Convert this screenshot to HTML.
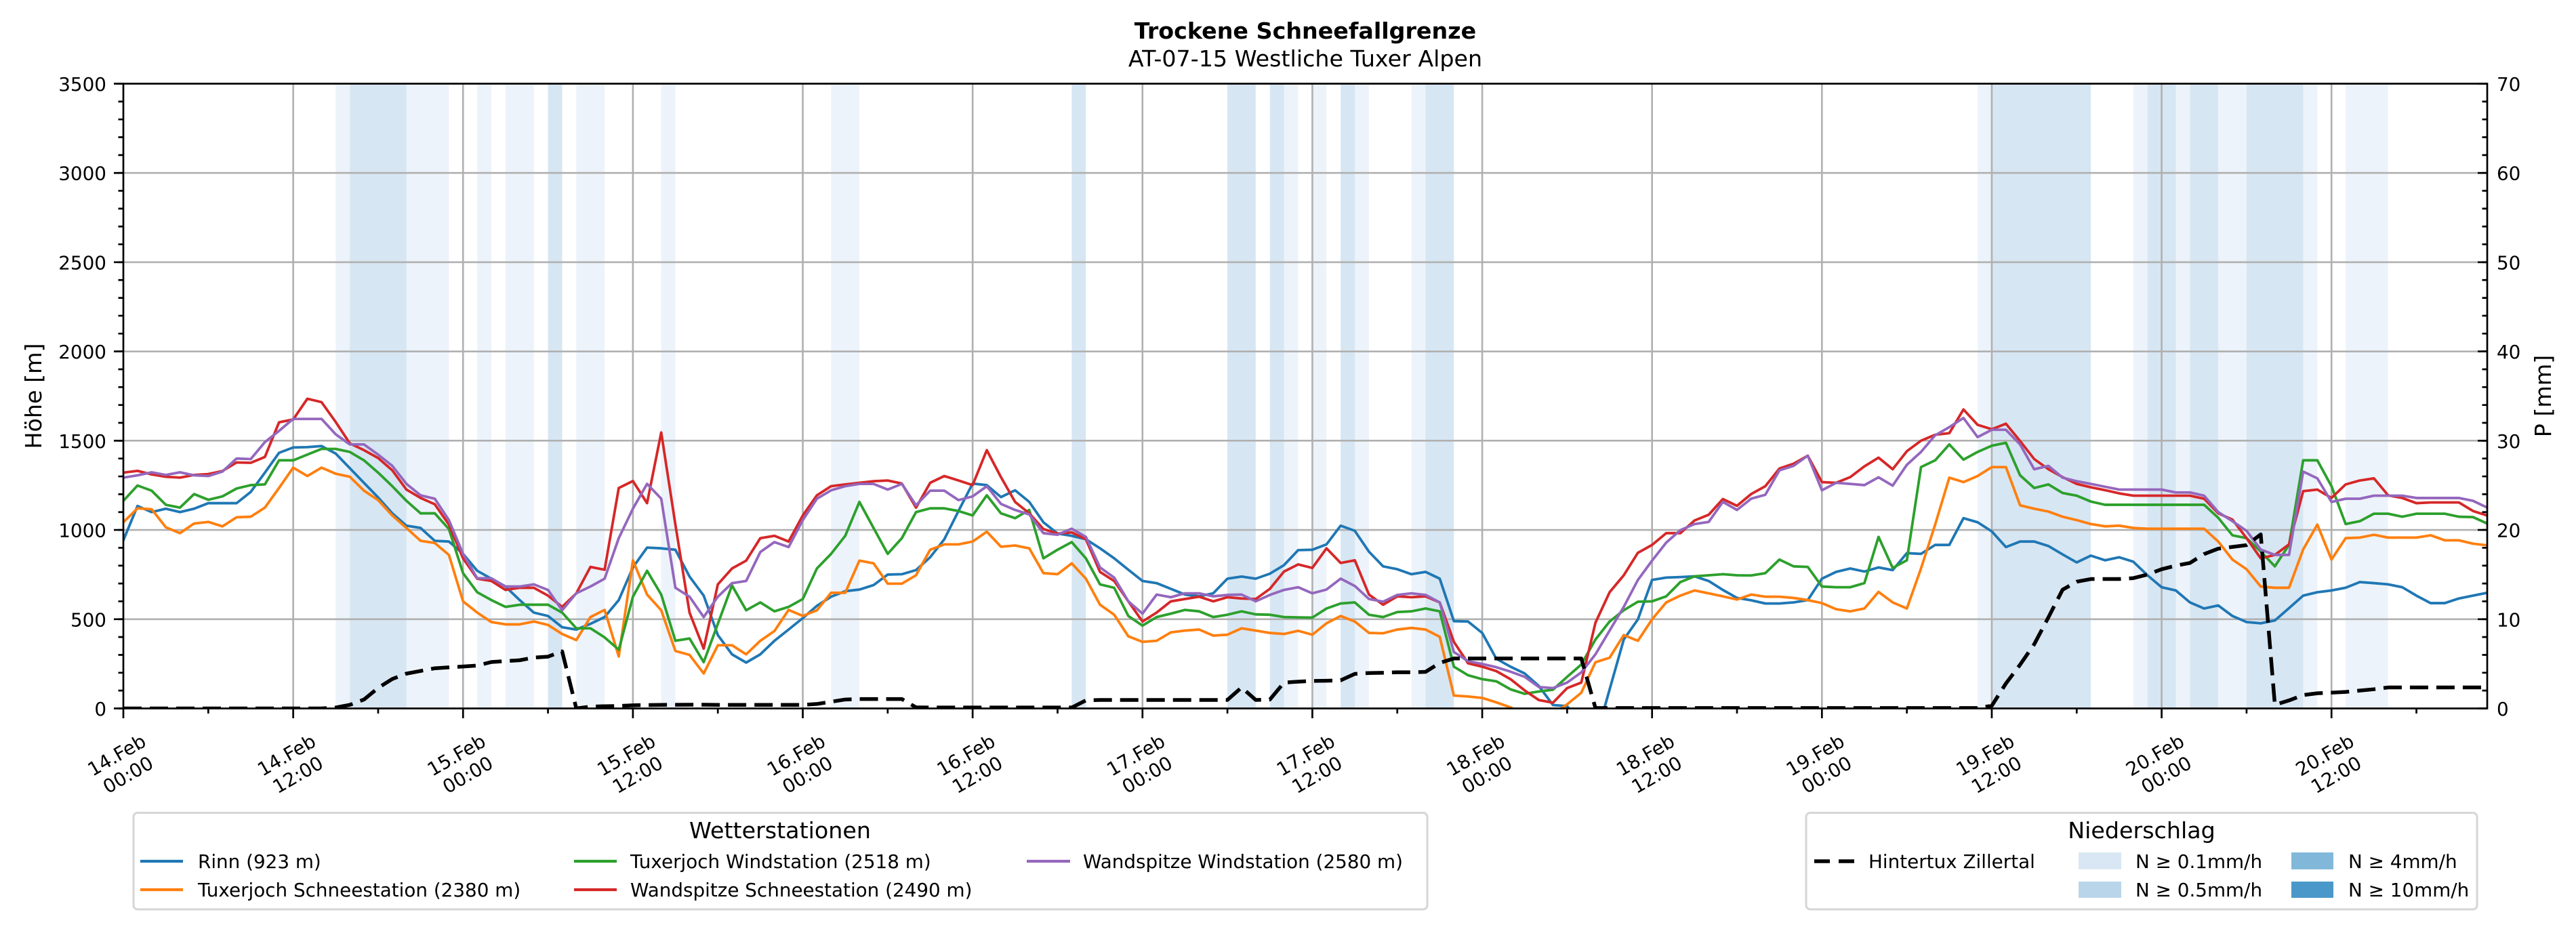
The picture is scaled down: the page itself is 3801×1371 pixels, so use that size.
<!DOCTYPE html>
<html>
<head>
<meta charset="utf-8">
<style>
html,body{margin:0;padding:0;background:#fff;}
svg{display:block;}
text{font-family:"DejaVu Sans","Liberation Sans",sans-serif;fill:#000;}
</style>
</head>
<body>
<svg width="3801" height="1371" viewBox="0 0 3801 1371" xmlns="http://www.w3.org/2000/svg">
<defs>
<clipPath id="plotclip"><rect x="182" y="123.5" width="3488" height="922"/></clipPath>
</defs>
<rect x="0" y="0" width="3801" height="1371" fill="#fff"/>

<!-- title -->
<text x="1926" y="57" font-size="33.3" font-weight="bold" text-anchor="middle">Trockene Schneefallgrenze</text>
<text x="1926" y="98" font-size="33.3" text-anchor="middle">AT-07-15 Westliche Tuxer Alpen</text>

<g clip-path="url(#plotclip)">
<!-- precipitation bands -->
<g transform="translate(182 1045.5) scale(20.886 -0.263429)">
<g fill="#edf3fa">
<rect x="15" y="0" width="1" height="3500"/>
<rect x="20" y="0" width="3" height="3500"/>
<rect x="25" y="0" width="1" height="3500"/>
<rect x="27" y="0" width="2" height="3500"/>
<rect x="32" y="0" width="2" height="3500"/>
<rect x="38" y="0" width="1" height="3500"/>
<rect x="50" y="0" width="2" height="3500"/>
<rect x="82" y="0" width="1" height="3500"/>
<rect x="84" y="0" width="1" height="3500"/>
<rect x="87" y="0" width="1" height="3500"/>
<rect x="91" y="0" width="1" height="3500"/>
<rect x="131" y="0" width="1" height="3500"/>
<rect x="142" y="0" width="1" height="3500"/>
<rect x="145" y="0" width="1" height="3500"/>
<rect x="148" y="0" width="2" height="3500"/>
<rect x="154" y="0" width="1" height="3500"/>
<rect x="157" y="0" width="3" height="3500"/>
</g>
<g fill="#d7e6f3">
<rect x="16" y="0" width="4" height="3500"/>
<rect x="30" y="0" width="1" height="3500"/>
<rect x="67" y="0" width="1" height="3500"/>
<rect x="78" y="0" width="2" height="3500"/>
<rect x="81" y="0" width="1" height="3500"/>
<rect x="86" y="0" width="1" height="3500"/>
<rect x="92" y="0" width="2" height="3500"/>
<rect x="132" y="0" width="7" height="3500"/>
<rect x="143" y="0" width="2" height="3500"/>
<rect x="146" y="0" width="2" height="3500"/>
<rect x="150" y="0" width="4" height="3500"/>
</g>
</g>

<!-- grid -->
<path d="M432.63 123.5V1045.5M683.26 123.5V1045.5M933.9 123.5V1045.5M1184.53 123.5V1045.5M1435.16 123.5V1045.5M1685.79 123.5V1045.5M1936.42 123.5V1045.5M2187.06 123.5V1045.5M2437.69 123.5V1045.5M2688.32 123.5V1045.5M2938.95 123.5V1045.5M3189.58 123.5V1045.5M3440.22 123.5V1045.5M182 913.79H3670M182 782.07H3670M182 650.36H3670M182 518.64H3670M182 386.93H3670M182 255.21H3670" stroke="#b0b0b0" stroke-width="2.6" fill="none"/>

<!-- data series -->
<g transform="translate(182 1045.5) scale(20.886 -0.263429)" fill="none" stroke-width="3.8" stroke-linejoin="round" stroke-linecap="square">
<polyline vector-effect="non-scaling-stroke" stroke="#1f77b4" points="0,942 1,1134 2,1100 3,1119 4,1100 5,1119 6,1150 7,1150 8,1150 9,1213 10,1321 11,1432 12,1462 13,1464 14,1470 15,1428 16,1346 17,1264 18,1182 19,1093 20,1024 21,1011 22,939 23,935 24,866 25,771 26,727 27,683 28,607 29,537 30,518 31,455 32,442 33,474 34,512 35,607 36,790 37,901 38,897 39,889 40,739 41,632 42,411 43,303 44,257 45,303 46,379 47,442 48,506 49,575 50,626 51,657 52,666 53,691 54,750 55,752 56,775 57,847 58,948 59,1106 60,1260 61,1251 62,1184 63,1222 64,1157 65,1043 66,980 67,967 68,948 69,897 70,841 71,777 72,714 73,702 74,670 75,638 76,628 77,645 78,727 79,739 80,727 81,755 82,803 83,887 84,889 85,919 86,1024 87,995 88,878 89,796 90,780 91,752 92,765 93,727 94,489 95,487 96,423 97,278 98,234 99,196 100,126 101,19 102,13 103,-90 104,-175 105,106 106,386 107,499 108,720 109,733 110,736 111,740 112,714 113,664 114,619 115,606 116,588 117,588 118,594 119,607 120,727 121,765 122,784 123,767 124,790 125,775 126,870 127,866 128,916 129,916 130,1066 131,1043 132,992 133,904 134,935 135,935 136,910 137,863 138,818 139,856 140,830 141,847 142,822 143,746 144,679 145,661 146,594 147,560 148,577 149,518 150,484 151,477 152,493 153,562 154,632 155,651 156,661 157,676 158,708 159,702 160,695 161,679 162,632 163,590 164,590 165,616 166,632 167,648"/>
<polyline vector-effect="non-scaling-stroke" stroke="#ff7f0e" points="0,1043 1,1121 2,1116 3,1015 4,982 5,1036 6,1045 7,1020 8,1071 9,1074 10,1125 11,1235 12,1349 13,1302 14,1349 15,1315 16,1298 17,1220 18,1167 19,1081 20,1011 21,939 22,927 23,860 24,600 25,537 26,484 27,471 28,471 29,487 30,468 31,417 32,383 33,512 34,552 35,291 36,830 37,638 38,550 39,322 40,300 41,196 42,354 43,354 44,303 45,379 46,434 47,552 48,518 49,550 50,648 51,648 52,828 53,813 54,699 55,699 56,746 57,889 58,919 59,919 60,935 61,990 62,906 63,913 64,897 65,758 66,752 67,813 68,727 69,581 70,525 71,404 72,373 73,379 74,426 75,436 76,442 77,408 78,413 79,449 80,436 81,423 82,417 83,435 84,413 85,477 86,518 87,487 88,423 89,421 90,442 91,451 92,442 93,401 94,72 95,67 96,59 97,34 98,6 99,-40 100,-60 101,-30 102,23 103,88 104,259 105,284 106,411 107,379 108,499 109,594 110,632 111,661 112,645 113,628 114,610 115,638 116,626 117,626 118,619 119,607 120,590 121,556 122,544 123,560 124,653 125,594 126,560 127,784 128,1030 129,1293 130,1268 131,1302 132,1352 133,1352 134,1138 135,1119 136,1103 137,1074 138,1055 139,1033 140,1020 141,1024 142,1011 143,1007 144,1007 145,1007 146,1007 147,1007 148,935 149,834 150,780 151,683 152,676 153,676 154,891 155,1030 156,834 157,954 158,957 159,973 160,957 161,957 162,957 163,970 164,942 165,942 166,923 167,914"/>
<polyline vector-effect="non-scaling-stroke" stroke="#2ca02c" points="0,1163 1,1249 2,1220 3,1141 4,1125 5,1201 6,1169 7,1188 8,1232 9,1251 10,1255 11,1390 12,1390 13,1422 14,1454 15,1454 16,1437 17,1390 18,1321 19,1245 20,1163 21,1093 22,1093 23,1005 24,758 25,651 26,607 27,569 28,581 29,581 30,581 31,537 32,449 33,449 34,398 35,329 36,626 37,771 38,638 39,379 40,392 41,259 42,474 43,689 44,550 45,594 46,544 47,569 48,613 49,784 50,866 51,967 52,1157 53,1011 54,866 55,954 56,1100 57,1121 58,1121 59,1106 60,1081 61,1194 62,1093 63,1066 64,1112 65,841 66,889 67,932 68,841 69,695 70,676 71,518 72,464 73,512 74,531 75,552 76,544 77,512 78,525 79,544 80,527 81,525 82,512 83,510 84,509 85,560 86,588 87,594 88,525 89,512 90,540 91,544 92,560 93,544 94,234 95,186 96,164 97,152 98,107 99,82 100,95 101,105 102,177 103,246 104,386 105,487 106,550 107,598 108,600 109,628 110,708 111,740 112,746 113,752 114,746 115,745 116,758 117,834 118,796 119,793 120,683 121,679 122,679 123,702 124,961 125,787 126,830 127,1352 128,1390 129,1479 130,1394 131,1437 132,1472 133,1488 134,1306 135,1235 136,1255 137,1207 138,1192 139,1159 140,1141 141,1141 142,1141 143,1141 144,1141 145,1141 146,1141 147,1141 148,1068 149,970 150,954 151,879 152,796 153,916 154,1390 155,1390 156,1245 157,1033 158,1049 159,1091 160,1091 161,1074 162,1091 163,1091 164,1091 165,1074 166,1072 167,1036"/>
<polyline vector-effect="non-scaling-stroke" stroke="#d62728" points="0,1321 1,1331 2,1311 3,1298 4,1293 5,1308 6,1313 7,1330 8,1378 9,1376 10,1409 11,1603 12,1619 13,1735 14,1716 15,1605 16,1485 17,1447 18,1403 19,1334 20,1226 21,1179 22,1144 23,1030 24,841 25,727 26,714 27,664 28,676 29,676 30,632 31,569 32,645 33,793 34,777 35,1235 36,1274 37,1150 38,1546 39,1030 40,537 41,335 42,695 43,784 44,828 45,954 46,967 47,935 48,1081 49,1194 50,1245 51,1255 52,1264 53,1273 54,1277 55,1260 56,1125 57,1264 58,1302 59,1277 60,1251 61,1447 62,1296 63,1157 64,1093 65,1005 66,980 67,986 68,948 69,765 70,714 71,600 72,487 73,537 74,600 75,613 76,626 77,600 78,623 79,616 80,613 81,670 82,767 83,807 84,787 85,897 86,815 87,830 88,638 89,581 90,628 91,623 92,628 93,594 94,373 95,253 96,234 97,209 98,164 99,101 100,47 101,32 102,114 103,145 104,480 105,651 106,746 107,872 108,916 109,982 110,982 111,1053 112,1085 113,1173 114,1135 115,1201 116,1245 117,1344 118,1371 119,1416 120,1268 121,1264 122,1296 123,1356 124,1405 125,1340 126,1441 127,1500 128,1533 129,1542 130,1675 131,1589 132,1564 133,1595 134,1498 135,1397 136,1340 137,1296 138,1258 139,1239 140,1223 141,1205 142,1192 143,1192 144,1192 145,1192 146,1192 147,1175 148,1093 149,1058 150,954 151,841 152,860 153,919 154,1217 155,1226 156,1179 157,1255 158,1277 159,1289 160,1194 161,1179 162,1150 163,1154 164,1154 165,1154 166,1106 167,1081"/>
<polyline vector-effect="non-scaling-stroke" stroke="#9467bd" points="0,1293 1,1306 2,1323 3,1308 4,1323 5,1306 6,1302 7,1327 8,1400 9,1397 10,1492 11,1555 12,1622 13,1622 14,1622 15,1536 16,1479 17,1479 18,1422 19,1359 20,1258 21,1194 22,1175 23,1055 24,866 25,729 26,729 27,683 28,683 29,695 30,664 31,550 32,645 33,683 34,727 35,954 36,1119 37,1258 38,1175 39,676 40,626 41,512 42,626 43,702 44,714 45,876 46,932 47,904 48,1055 49,1175 50,1222 51,1245 52,1258 53,1258 54,1226 55,1258 56,1138 57,1220 58,1220 59,1167 60,1188 61,1245 62,1146 63,1112 64,1087 65,982 66,973 67,1007 68,961 69,790 70,733 71,600 72,531 73,638 74,623 75,645 76,645 77,628 78,636 79,638 80,600 81,636 82,664 83,679 84,645 85,666 86,727 87,686 88,613 89,598 90,636 91,645 92,636 93,594 94,316 95,265 96,249 97,231 98,206 99,177 100,120 101,114 102,145 103,202 104,303 105,436 106,569 107,720 108,828 109,929 110,999 111,1033 112,1045 113,1157 114,1112 115,1175 116,1197 117,1334 118,1359 119,1416 120,1222 121,1264 122,1258 123,1251 124,1295 125,1248 126,1365 127,1437 128,1530 129,1576 130,1627 131,1520 132,1561 133,1561 134,1479 135,1340 136,1359 137,1293 138,1273 139,1258 140,1242 141,1226 142,1226 143,1226 144,1226 145,1210 146,1210 147,1192 148,1100 149,1049 150,995 151,890 152,860 153,860 154,1327 155,1289 156,1157 157,1175 158,1175 159,1192 160,1192 161,1192 162,1179 163,1179 164,1179 165,1179 166,1163 167,1125"/>
</g>

<!-- precipitation sum (dashed) -->
<g transform="translate(182 1045.5) scale(20.886 -13.1714)" fill="none">
<polyline vector-effect="non-scaling-stroke" stroke="#000" stroke-width="5.5" stroke-dasharray="27 12" stroke-linejoin="round" points="0,0 14,0 15,0.1 16,0.4 17,1.0 18,2.3 19,3.3 20,3.9 21,4.2 22,4.5 23,4.6 24,4.7 25,4.8 26,5.2 27,5.3 28,5.4 29,5.7 30,5.8 31,6.4 32,0 33,0.2 34,0.25 35,0.28 36,0.35 37,0.38 38,0.4 40,0.42 41,0.42 42,0.4 48,0.4 49,0.5 50,0.75 51,1.0 52,1.05 55,1.05 56,0.12 57,0.1 67,0.1 68,0.9 69,0.95 78,0.95 79,2.35 80,0.95 81,1.0 82,2.9 83,3.0 84,3.08 85,3.1 86,3.15 87,3.87 88,3.97 89,4.0 90,4.05 91,4.05 92,4.1 93,5.1 94,5.6 103,5.6 104,0.05 131,0.05 132,0.3 133,2.8 134,4.9 135,7.2 136,10.2 137,13.3 138,14.2 139,14.5 141,14.5 142,14.6 143,15.0 144,15.6 145,16.0 146,16.3 147,17.3 148,17.9 149,18.1 150,18.3 151,19.5 152,0.4 153,0.9 154,1.5 155,1.7 156,1.77 157,1.85 158,2.0 159,2.15 160,2.35 167,2.35"/>
</g>
</g>

<!-- spines -->
<rect x="182" y="123.5" width="3488" height="922" fill="none" stroke="#000" stroke-width="2.7"/>

<!-- ticks -->
<line x1="178.25" y1="1046.85" x2="178.25" y2="122" stroke="#000" stroke-width="7.5" stroke-dasharray="2.7 23.643"/>
<line x1="175" y1="1046.85" x2="175" y2="122" stroke="#000" stroke-width="14" stroke-dasharray="2.7 129.01"/>
<line x1="3666.25" y1="1046.85" x2="3666.25" y2="122" stroke="#000" stroke-width="7.5" stroke-dasharray="2.7 23.643"/>
<line x1="3663" y1="1046.85" x2="3663" y2="122" stroke="#000" stroke-width="14" stroke-dasharray="2.7 129.01"/>
<line x1="180.65" y1="1052.75" x2="3672" y2="1052.75" stroke="#000" stroke-width="14.5" stroke-dasharray="2.7 247.932"/>
<line x1="305.97" y1="1049.25" x2="3672" y2="1049.25" stroke="#000" stroke-width="7.5" stroke-dasharray="2.7 247.932"/>

<!-- left tick labels -->
<g font-size="27.8" text-anchor="end">
<text x="157" y="1056">0</text>
<text x="157" y="924.3">500</text>
<text x="157" y="792.6">1000</text>
<text x="157" y="660.9">1500</text>
<text x="157" y="529.1">2000</text>
<text x="157" y="397.4">2500</text>
<text x="157" y="265.7">3000</text>
<text x="157" y="134">3500</text>
</g>
<!-- right tick labels -->
<g font-size="27.8" text-anchor="start">
<text x="3684" y="1056">0</text>
<text x="3684" y="924.3">10</text>
<text x="3684" y="792.6">20</text>
<text x="3684" y="660.9">30</text>
<text x="3684" y="529.1">40</text>
<text x="3684" y="397.4">50</text>
<text x="3684" y="265.7">60</text>
<text x="3684" y="134">70</text>
</g>

<!-- axis labels -->
<text transform="translate(61 584.5) rotate(-90)" font-size="33.3" text-anchor="middle">Höhe [m]</text>
<text transform="translate(3764 584.5) rotate(-90)" font-size="33.3" text-anchor="middle">P [mm]</text>

<!-- x tick labels -->
<g font-size="27.8" text-anchor="middle">
<g transform="translate(171.8 1113.8) rotate(-30)"><text y="10.5">14.Feb</text><text y="43.9">00:00</text></g>
<g transform="translate(422.4 1113.8) rotate(-30)"><text y="10.5">14.Feb</text><text y="43.9">12:00</text></g>
<g transform="translate(673.1 1113.8) rotate(-30)"><text y="10.5">15.Feb</text><text y="43.9">00:00</text></g>
<g transform="translate(923.7 1113.8) rotate(-30)"><text y="10.5">15.Feb</text><text y="43.9">12:00</text></g>
<g transform="translate(1174.3 1113.8) rotate(-30)"><text y="10.5">16.Feb</text><text y="43.9">00:00</text></g>
<g transform="translate(1425 1113.8) rotate(-30)"><text y="10.5">16.Feb</text><text y="43.9">12:00</text></g>
<g transform="translate(1675.6 1113.8) rotate(-30)"><text y="10.5">17.Feb</text><text y="43.9">00:00</text></g>
<g transform="translate(1926.2 1113.8) rotate(-30)"><text y="10.5">17.Feb</text><text y="43.9">12:00</text></g>
<g transform="translate(2176.9 1113.8) rotate(-30)"><text y="10.5">18.Feb</text><text y="43.9">00:00</text></g>
<g transform="translate(2427.5 1113.8) rotate(-30)"><text y="10.5">18.Feb</text><text y="43.9">12:00</text></g>
<g transform="translate(2678.1 1113.8) rotate(-30)"><text y="10.5">19.Feb</text><text y="43.9">00:00</text></g>
<g transform="translate(2928.8 1113.8) rotate(-30)"><text y="10.5">19.Feb</text><text y="43.9">12:00</text></g>
<g transform="translate(3179.4 1113.8) rotate(-30)"><text y="10.5">20.Feb</text><text y="43.9">00:00</text></g>
<g transform="translate(3430 1113.8) rotate(-30)"><text y="10.5">20.Feb</text><text y="43.9">12:00</text></g>
</g>

<!-- legend: Wetterstationen -->
<rect x="197" y="1199.5" width="1909" height="142.5" rx="6" ry="6" fill="#fff" stroke="#d6d6d6" stroke-width="3"/>
<text x="1151" y="1237" font-size="33.3" text-anchor="middle">Wetterstationen</text>
<g stroke-width="4.2">
<line x1="207" y1="1271" x2="270" y2="1271" stroke="#1f77b4"/>
<line x1="207" y1="1313" x2="270" y2="1313" stroke="#ff7f0e"/>
<line x1="847" y1="1271" x2="910" y2="1271" stroke="#2ca02c"/>
<line x1="847" y1="1313" x2="910" y2="1313" stroke="#d62728"/>
<line x1="1515" y1="1271" x2="1579" y2="1271" stroke="#9467bd"/>
</g>
<g font-size="27.8">
<text x="292" y="1281">Rinn (923 m)</text>
<text x="292" y="1323">Tuxerjoch Schneestation (2380 m)</text>
<text x="930" y="1281">Tuxerjoch Windstation (2518 m)</text>
<text x="930" y="1323">Wandspitze Schneestation (2490 m)</text>
<text x="1598" y="1281">Wandspitze Windstation (2580 m)</text>
</g>

<!-- legend: Niederschlag -->
<rect x="2665" y="1199.5" width="990" height="142.5" rx="6" ry="6" fill="#fff" stroke="#d6d6d6" stroke-width="3"/>
<text x="3160" y="1237" font-size="33.3" text-anchor="middle">Niederschlag</text>
<line x1="2677" y1="1271" x2="2736" y2="1271" stroke="#000" stroke-width="5.5" stroke-dasharray="23 13"/>
<rect x="3067" y="1258" width="63" height="25" fill="#d9e7f4"/>
<rect x="3067" y="1301" width="63" height="24" fill="#b9d5ea"/>
<rect x="3381" y="1258" width="62" height="25" fill="#81b8da"/>
<rect x="3381" y="1301" width="62" height="24" fill="#4a98c9"/>
<g font-size="27.8">
<text x="2757" y="1281">Hintertux Zillertal</text>
<text x="3151" y="1281">N ≥ 0.1mm/h</text>
<text x="3151" y="1323">N ≥ 0.5mm/h</text>
<text x="3465" y="1281">N ≥ 4mm/h</text>
<text x="3465" y="1323">N ≥ 10mm/h</text>
</g>
</svg>
</body>
</html>
